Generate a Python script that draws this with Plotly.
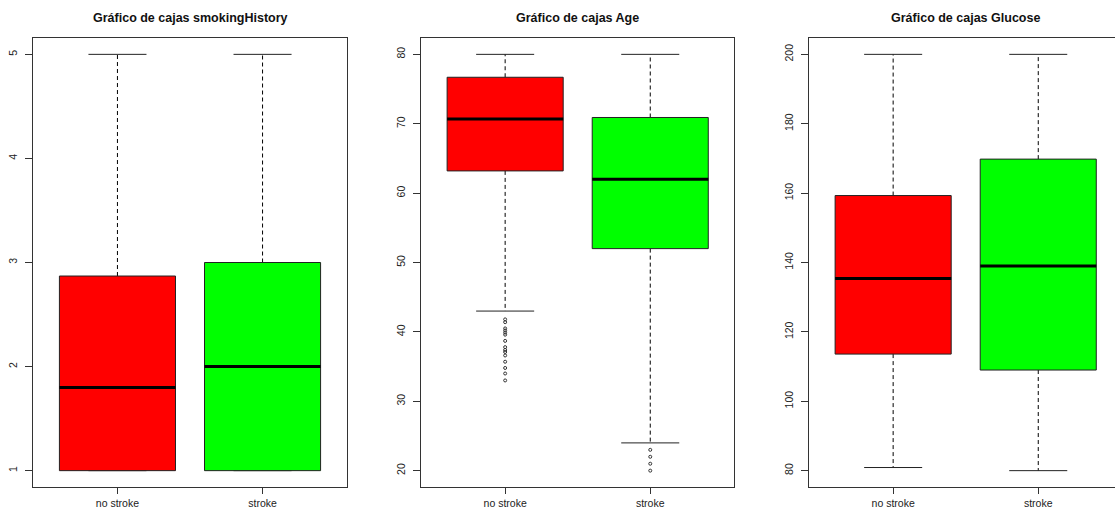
import plotly.graph_objects as go

# ---------------- data ----------------
groups = ["no stroke", "stroke"]
fill_colors = ["#FF0000", "#00FF00"]

panel_titles = ["Gráfico de cajas smokingHistory", "Gráfico de cajas Age", "Gráfico de cajas Glucose"]

smoking_lower = [1.0, 1.0]
smoking_q1 = [1.0, 1.0]
smoking_median = [1.8, 2.0]
smoking_q3 = [2.87, 3.0]
smoking_upper = [5.0, 5.0]
smoking_outliers = [[], []]
smoking_ticks = [1, 2, 3, 4, 5]

age_lower = [43.0, 24.0]
age_q1 = [63.2, 52.0]
age_median = [70.7, 62.0]
age_q3 = [76.7, 70.9]
age_upper = [80.0, 80.0]
age_outliers = [
    [41.8, 41.4, 40.5, 40.2, 39.9, 39.6, 38.7, 37.8, 37.4, 37.1, 36.6, 35.7, 34.8, 34.0, 33.0],
    [23.0, 22.0, 21.0, 20.0],
]
age_ticks = [20, 30, 40, 50, 60, 70, 80]

glucose_lower = [80.9, 80.0]
glucose_q1 = [113.6, 109.0]
glucose_median = [135.4, 139.0]
glucose_q3 = [159.3, 169.8]
glucose_upper = [200.0, 200.0]
glucose_outliers = [[], []]
glucose_ticks = [80, 100, 120, 140, 160, 180, 200]

panels = [
    dict(lower=smoking_lower, q1=smoking_q1, med=smoking_median, q3=smoking_q3, upper=smoking_upper,
         out=smoking_outliers, ticks=smoking_ticks),
    dict(lower=age_lower, q1=age_q1, med=age_median, q3=age_q3, upper=age_upper,
         out=age_outliers, ticks=age_ticks),
    dict(lower=glucose_lower, q1=glucose_q1, med=glucose_median, q3=glucose_q3, upper=glucose_upper,
         out=glucose_outliers, ticks=glucose_ticks),
]

# ---------------- layout constants ----------------
W, H = 1115, 511
FONT = "Liberation Sans, Arial, Helvetica, sans-serif"
BOXW = 0.4     # half box width (boxwex 0.8)
CAPW = 0.2     # half staple width
x_left_px = [33.3, 421.0, 809.0]
x_right_px = [346.7, 734.0, 1115.0]
y_top_px, y_bot_px = 37.7, 487.3

fig = go.Figure()

for p, pan in enumerate(panels):
    xa = "x" if p == 0 else f"x{p+1}"
    ya = "y" if p == 0 else f"y{p+1}"
    for g in range(len(groups)):
        c = g + 1
        q1, q3, med = pan["q1"][g], pan["q3"][g], pan["med"][g]
        lo, hi = pan["lower"][g], pan["upper"][g]
        # whiskers (dashed)
        fig.add_trace(go.Scatter(x=[c, c, None, c, c], y=[q3, hi, None, q1, lo], mode="lines",
                                 line=dict(color="black", width=1, dash="4px,3px"),
                                 xaxis=xa, yaxis=ya, showlegend=False, hoverinfo="skip"))
        # staples
        fig.add_trace(go.Scatter(x=[c - CAPW, c + CAPW, None, c - CAPW, c + CAPW],
                                 y=[hi, hi, None, lo, lo], mode="lines",
                                 line=dict(color="#222222", width=1),
                                 xaxis=xa, yaxis=ya, showlegend=False, hoverinfo="skip"))
        # box
        fig.add_trace(go.Scatter(x=[c - BOXW, c + BOXW, c + BOXW, c - BOXW, c - BOXW],
                                 y=[q1, q1, q3, q3, q1], mode="lines", fill="toself",
                                 fillcolor=fill_colors[g], line=dict(color="#222222", width=1),
                                 xaxis=xa, yaxis=ya, showlegend=False, name=groups[g]))
        # median
        fig.add_trace(go.Scatter(x=[c - BOXW, c + BOXW], y=[med, med], mode="lines",
                                 line=dict(color="black", width=3),
                                 xaxis=xa, yaxis=ya, showlegend=False, hoverinfo="skip"))
        # outliers
        if pan["out"][g]:
            fig.add_trace(go.Scatter(x=[c] * len(pan["out"][g]), y=pan["out"][g], mode="markers",
                                     marker=dict(symbol="circle-open", size=3, color="#333333",
                                                 line=dict(width=1)),
                                     xaxis=xa, yaxis=ya, showlegend=False))

    ymin, ymax = min(pan["lower"] + sum(pan["out"], [])), max(pan["upper"])
    pad = 0.04 * (ymax - ymin)
    # x range: R-style 0.42..2.58; third panel is cut at the window edge
    px_per_unit = (x_right_px[0] - x_left_px[0]) / 2.16
    xr0 = 0.42
    xr1 = xr0 + (x_right_px[p] - x_left_px[p]) / px_per_unit

    xkey = "xaxis" if p == 0 else f"xaxis{p+1}"
    ykey = "yaxis" if p == 0 else f"yaxis{p+1}"
    fig.layout[xkey] = dict(
        domain=[x_left_px[p] / W, x_right_px[p] / W], range=[xr0, xr1], anchor=ya,
        tickmode="array", tickvals=[1, 2], ticktext=groups,
        showline=True, mirror=True, linecolor="#333333", linewidth=1,
        ticks="outside", ticklen=6, tickcolor="#333333", showgrid=False, zeroline=False,
        tickfont=dict(family=FONT, size=10.5, color="#222222"), fixedrange=True,
    )
    fig.layout[ykey] = dict(
        domain=[(H - y_bot_px) / H, (H - y_top_px) / H], range=[ymin - pad, ymax + pad], anchor=xa,
        tickmode="array", tickvals=pan["ticks"], ticktext=[str(t) for t in pan["ticks"]],
        tickangle=-90, showline=True, mirror=(p < 2), linecolor="#333333", linewidth=1,
        ticks="outside", ticklen=7, tickcolor="#333333", showgrid=False, zeroline=False,
        ticklabelstandoff=4,
        tickfont=dict(family=FONT, size=10.5, color="#222222"), fixedrange=True,
    )
    fig.add_annotation(text="<b>" + panel_titles[p] + "</b>", xref="paper", yref="paper",
                       x=(x_left_px[p] + (346.7 - 33.3) / 2) / W, y=1 - 18 / H,
                       xanchor="center", yanchor="middle", showarrow=False,
                       font=dict(family=FONT, size=12.5, color="#111111"))

fig.update_layout(
    width=W, height=H, margin=dict(l=0, r=0, t=0, b=0),
    paper_bgcolor="white", plot_bgcolor="white", showlegend=False,
)

fig.write_html("out.html", config={"displayModeBar": False},
               post_script="document.body.style.margin='0px';document.body.style.overflow='hidden';")
